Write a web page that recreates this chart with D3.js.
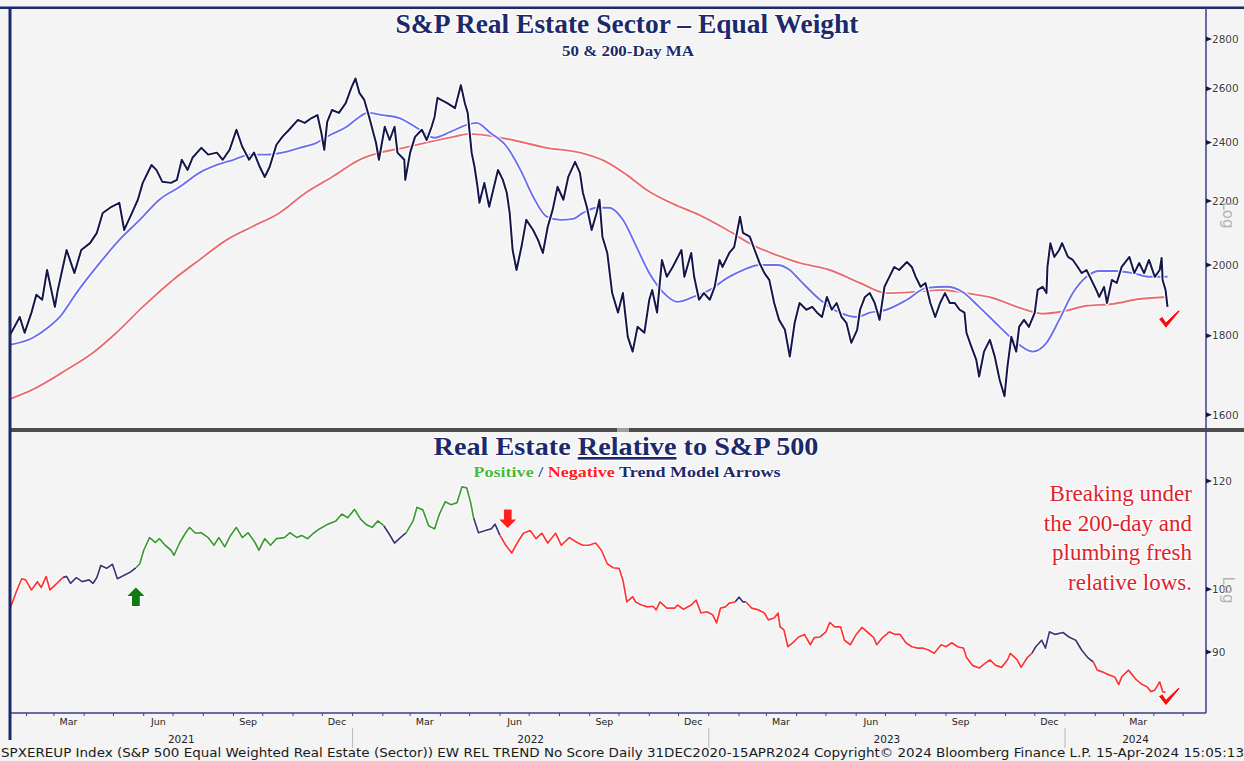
<!DOCTYPE html>
<html>
<head>
<meta charset="utf-8">
<script src="https://cdn.jsdelivr.net/npm/d3@7"></script>
<style>
  body { margin: 0; background: #f4f4f4; }
  svg { display: block; }
</style>
</head>
<body>
<svg id="chart" width="1244" height="761"></svg>
<script>
// ---- data ----
const price = [["2021-01-15",1802],["2021-01-25",1851],["2021-01-30",1808],["2021-02-06",1863],["2021-02-11",1913],["2021-02-17",1899],["2021-02-22",1985],["2021-03-02",1879],["2021-03-05",1927],["2021-03-14",2045],["2021-03-22",1976],["2021-03-29",2045],["2021-04-07",2066],["2021-04-14",2098],["2021-04-20",2161],["2021-04-29",2181],["2021-05-07",2194],["2021-05-12",2107],["2021-05-20",2161],["2021-05-26",2204],["2021-05-31",2260],["2021-06-09",2321],["2021-06-14",2304],["2021-06-20",2264],["2021-06-29",2260],["2021-07-05",2270],["2021-07-10",2339],["2021-07-16",2304],["2021-07-21",2346],["2021-07-30",2381],["2021-08-06",2357],["2021-08-15",2364],["2021-08-21",2339],["2021-08-28",2374],["2021-09-04",2446],["2021-09-10",2385],["2021-09-17",2339],["2021-09-22",2364],["2021-09-28",2314],["2021-10-03",2280],["2021-10-08",2314],["2021-10-15",2392],["2021-10-21",2420],["2021-10-28",2446],["2021-11-06",2482],["2021-11-13",2471],["2021-11-20",2489],["2021-11-26",2500],["2021-11-30",2435],["2021-12-03",2374],["2021-12-06",2475],["2021-12-11",2519],["2021-12-18",2508],["2021-12-25",2545],["2021-12-31",2606],["2022-01-04",2640],["2022-01-08",2584],["2022-01-13",2557],["2022-01-18",2493],["2022-01-25",2399],["2022-01-28",2339],["2022-02-03",2457],["2022-02-08",2409],["2022-02-13",2457],["2022-02-16",2364],["2022-02-23",2339],["2022-02-24",2270],["2022-03-01",2364],["2022-03-06",2420],["2022-03-13",2446],["2022-03-18",2409],["2022-03-23",2457],["2022-03-26",2493],["2022-03-29",2565],["2022-04-08",2545],["2022-04-16",2526],["2022-04-22",2614],["2022-04-26",2545],["2022-04-29",2508],["2022-05-03",2364],["2022-05-06",2314],["2022-05-09",2247],["2022-05-11",2194],["2022-05-16",2260],["2022-05-21",2181],["2022-05-30",2304],["2022-06-04",2270],["2022-06-08",2227],["2022-06-11",2161],["2022-06-14",2045],["2022-06-18",1985],["2022-06-23",2054],["2022-06-28",2139],["2022-07-05",2107],["2022-07-10",2076],["2022-07-15",2036],["2022-07-20",2117],["2022-07-25",2171],["2022-07-30",2247],["2022-08-05",2204],["2022-08-10",2280],["2022-08-17",2332],["2022-08-22",2294],["2022-08-25",2227],["2022-08-29",2181],["2022-09-03",2107],["2022-09-08",2161],["2022-09-11",2204],["2022-09-14",2086],["2022-09-19",2036],["2022-09-24",1918],["2022-09-30",1863],["2022-10-05",1918],["2022-10-10",1797],["2022-10-15",1758],["2022-10-20",1824],["2022-10-27",1808],["2022-11-01",1899],["2022-11-04",1927],["2022-11-09",1863],["2022-11-14",2015],["2022-11-19",1965],["2022-11-25",1994],["2022-12-04",2045],["2022-12-07",1965],["2022-12-14",2036],["2022-12-17",1965],["2022-12-22",1899],["2022-12-27",1918],["2023-01-02",1899],["2023-01-07",1936],["2023-01-12",2015],["2023-01-15",1994],["2023-01-22",2036],["2023-01-27",2054],["2023-02-02",2149],["2023-02-05",2098],["2023-02-12",2086],["2023-02-17",2045],["2023-02-22",2006],["2023-02-27",1976],["2023-03-04",1956],["2023-03-09",1890],["2023-03-14",1843],["2023-03-20",1816],["2023-03-25",1745],["2023-03-30",1835],["2023-04-04",1890],["2023-04-11",1871],["2023-04-17",1879],["2023-04-22",1863],["2023-04-27",1851],["2023-05-02",1907],["2023-05-07",1871],["2023-05-12",1890],["2023-05-17",1851],["2023-05-22",1835],["2023-05-27",1781],["2023-06-02",1816],["2023-06-05",1871],["2023-06-10",1907],["2023-06-15",1918],["2023-06-20",1890],["2023-06-25",1843],["2023-06-30",1936],["2023-07-05",1965],["2023-07-10",1994],["2023-07-15",1985],["2023-07-23",2009],["2023-07-28",1994],["2023-08-01",1965],["2023-08-06",1936],["2023-08-11",1947],["2023-08-16",1890],["2023-08-21",1851],["2023-08-26",1890],["2023-08-31",1918],["2023-09-05",1890],["2023-09-10",1890],["2023-09-15",1871],["2023-09-20",1863],["2023-09-22",1808],["2023-09-27",1771],["2023-10-02",1737],["2023-10-05",1694],["2023-10-10",1758],["2023-10-16",1789],["2023-10-21",1745],["2023-10-26",1686],["2023-10-31",1645],["2023-11-03",1719],["2023-11-07",1797],["2023-11-12",1758],["2023-11-15",1824],["2023-11-20",1843],["2023-11-25",1824],["2023-12-01",1863],["2023-12-04",1927],["2023-12-09",1936],["2023-12-13",1918],["2023-12-14",1994],["2023-12-17",2066],["2023-12-21",2024],["2023-12-26",2045],["2023-12-29",2066],["2024-01-04",2024],["2024-01-09",2015],["2024-01-14",1994],["2024-01-18",1976],["2024-01-23",1985],["2024-01-28",1956],["2024-02-02",1927],["2024-02-05",1907],["2024-02-10",1936],["2024-02-13",1890],["2024-02-18",1956],["2024-02-23",1947],["2024-02-28",1994],["2024-03-07",2024],["2024-03-12",1976],["2024-03-17",2006],["2024-03-22",1976],["2024-03-27",2015],["2024-04-02",1965],["2024-04-07",1985],["2024-04-09",2021],["2024-04-10",1956],["2024-04-13",1927],["2024-04-15",1879]];

const ma50 = [["2021-01-15",1776],["2021-02-07",1794],["2021-02-24",1824],["2021-03-07",1851],["2021-03-24",1918],["2021-04-17",2006],["2021-05-07",2076],["2021-05-28",2139],["2021-06-17",2204],["2021-07-08",2247],["2021-07-28",2294],["2021-08-15",2321],["2021-09-01",2339],["2021-09-18",2357],["2021-10-05",2357],["2021-10-21",2364],["2021-11-08",2381],["2021-11-25",2399],["2021-12-09",2427],["2021-12-26",2457],["2022-01-08",2493],["2022-01-16",2508],["2022-02-01",2500],["2022-02-18",2489],["2022-03-11",2446],["2022-03-26",2417],["2022-04-11",2438],["2022-04-28",2464],["2022-05-08",2471],["2022-05-22",2435],["2022-06-08",2385],["2022-06-22",2304],["2022-07-05",2214],["2022-07-19",2149],["2022-08-02",2139],["2022-08-15",2142],["2022-08-25",2161],["2022-09-08",2178],["2022-09-21",2178],["2022-10-05",2139],["2022-10-19",2054],["2022-11-01",1976],["2022-11-15",1921],["2022-11-30",1893],["2022-12-16",1907],["2023-01-02",1927],["2023-01-20",1962],["2023-02-05",1985],["2023-02-22",2000],["2023-03-12",2000],["2023-03-25",1985],["2023-04-04",1956],["2023-04-25",1899],["2023-05-15",1863],["2023-06-02",1851],["2023-06-15",1863],["2023-07-02",1871],["2023-07-23",1899],["2023-08-12",1933],["2023-09-02",1936],["2023-09-18",1921],["2023-10-05",1879],["2023-10-26",1824],["2023-11-15",1776],["2023-11-29",1758],["2023-12-13",1781],["2023-12-26",1843],["2024-01-09",1918],["2024-01-23",1965],["2024-02-05",1982],["2024-02-22",1982],["2024-03-10",1976],["2024-03-28",1965],["2024-04-15",1965]];

const ma200 = [["2021-01-15",1638],["2021-02-07",1661],["2021-03-14",1711],["2021-04-10",1755],["2021-05-04",1808],["2021-05-31",1879],["2021-07-01",1956],["2021-07-28",2015],["2021-08-25",2076],["2021-09-20",2117],["2021-10-18",2161],["2021-11-14",2227],["2021-12-11",2280],["2022-01-08",2339],["2022-01-29",2364],["2022-02-18",2378],["2022-03-21",2402],["2022-04-14",2420],["2022-05-01",2431],["2022-05-21",2424],["2022-06-14",2409],["2022-07-19",2381],["2022-08-22",2364],["2022-09-18",2332],["2022-10-09",2287],["2022-10-29",2237],["2022-11-25",2191],["2022-12-22",2155],["2023-01-20",2107],["2023-02-15",2060],["2023-03-14",2027],["2023-04-04",2006],["2023-05-05",1985],["2023-06-05",1947],["2023-07-02",1918],["2023-07-29",1921],["2023-08-26",1927],["2023-09-22",1918],["2023-10-19",1904],["2023-11-15",1877],["2023-12-09",1860],["2023-12-29",1866],["2024-01-23",1882],["2024-02-18",1887],["2024-03-17",1901],["2024-04-15",1907]];

const relative = [["2021-01-15",96.8],["2021-01-21",99.4],["2021-01-27",101.8],["2021-01-31",101.6],["2021-02-06",99.9],["2021-02-12",101.3],["2021-02-16",100.3],["2021-02-21",102.2],["2021-02-25",99.9],["2021-03-04",101.0],["2021-03-10",102.0],["2021-03-14",102.2],["2021-03-18",101.0],["2021-03-24",102.0],["2021-03-30",101.3],["2021-04-06",101.6],["2021-04-10",101.0],["2021-04-14",102.0],["2021-04-18",104.1],["2021-04-24",103.6],["2021-04-30",104.3],["2021-05-05",101.8],["2021-05-11",102.3],["2021-05-18",102.9],["2021-05-24",103.7],["2021-05-28",104.4],["2021-06-01",106.8],["2021-06-07",109.1],["2021-06-13",108.2],["2021-06-17",108.9],["2021-06-23",107.7],["2021-06-29",106.8],["2021-07-02",105.9],["2021-07-08",108.2],["2021-07-14",110.0],["2021-07-18",111.0],["2021-07-24",109.9],["2021-07-30",110.0],["2021-08-06",109.1],["2021-08-12",107.7],["2021-08-17",109.1],["2021-08-23",107.4],["2021-08-29",109.5],["2021-09-04",111.0],["2021-09-10",109.1],["2021-09-16",110.0],["2021-09-23",108.2],["2021-09-27",106.8],["2021-10-03",108.9],["2021-10-09",107.7],["2021-10-15",108.9],["2021-10-23",109.1],["2021-10-29",110.0],["2021-11-05",109.1],["2021-11-10",109.5],["2021-11-16",108.9],["2021-11-22",109.9],["2021-11-28",110.7],["2021-12-07",111.6],["2021-12-15",112.2],["2021-12-21",113.5],["2021-12-27",112.8],["2022-01-03",114.4],["2022-01-09",112.6],["2022-01-15",111.5],["2022-01-21",111.0],["2022-01-27",112.2],["2022-02-02",111.3],["2022-02-07",109.9],["2022-02-13",108.1],["2022-02-19",109.1],["2022-02-25",110.0],["2022-03-04",112.2],["2022-03-08",114.8],["2022-03-14",114.3],["2022-03-20",111.3],["2022-03-26",110.7],["2022-03-31",113.5],["2022-04-06",115.9],["2022-04-12",115.3],["2022-04-18",115.7],["2022-04-23",118.8],["2022-04-28",118.6],["2022-05-02",115.7],["2022-05-05",112.8],["2022-05-10",110.0],["2022-05-17",110.4],["2022-05-23",110.7],["2022-05-27",111.6],["2022-06-01",109.5],["2022-06-07",107.7],["2022-06-13",106.3],["2022-06-19",108.2],["2022-06-25",109.9],["2022-07-02",110.4],["2022-07-08",108.9],["2022-07-14",109.9],["2022-07-20",108.1],["2022-07-28",109.9],["2022-08-03",107.7],["2022-08-11",109.1],["2022-08-19",108.2],["2022-08-25",107.7],["2022-08-31",107.7],["2022-09-07",108.1],["2022-09-13",106.8],["2022-09-19",104.4],["2022-09-25",103.7],["2022-10-01",103.6],["2022-10-05",101.6],["2022-10-09",97.9],["2022-10-15",98.8],["2022-10-18",97.9],["2022-10-24",97.4],["2022-10-30",97.1],["2022-11-05",97.2],["2022-11-08",96.6],["2022-11-12",97.9],["2022-11-19",96.9],["2022-11-27",96.9],["2022-11-30",97.4],["2022-12-06",96.7],["2022-12-14",97.4],["2022-12-19",98.2],["2022-12-24",96.1],["2022-12-30",96.3],["2023-01-05",95.8],["2023-01-09",94.5],["2023-01-13",96.9],["2023-01-18",97.1],["2023-01-22",97.7],["2023-01-28",97.9],["2023-02-01",98.7],["2023-02-05",97.9],["2023-02-08",97.9],["2023-02-14",96.9],["2023-02-21",96.6],["2023-02-27",96.1],["2023-03-03",95.0],["2023-03-09",95.3],["2023-03-13",96.1],["2023-03-15",93.9],["2023-03-19",93.4],["2023-03-23",90.8],["2023-03-28",91.4],["2023-04-03",92.3],["2023-04-09",92.7],["2023-04-15",91.1],["2023-04-19",92.2],["2023-04-25",92.3],["2023-05-01",93.1],["2023-05-05",94.6],["2023-05-10",93.9],["2023-05-16",93.9],["2023-05-20",91.8],["2023-05-26",91.1],["2023-06-01",92.7],["2023-06-07",93.8],["2023-06-13",93.0],["2023-06-19",92.2],["2023-06-22",91.1],["2023-06-28",92.2],["2023-07-05",93.1],["2023-07-11",92.7],["2023-07-16",92.7],["2023-07-22",91.4],["2023-07-28",90.8],["2023-08-03",90.6],["2023-08-08",90.6],["2023-08-14",90.3],["2023-08-20",89.8],["2023-08-27",91.1],["2023-09-01",90.8],["2023-09-07",91.4],["2023-09-13",90.8],["2023-09-19",90.6],["2023-09-22",89.2],["2023-09-28",88.0],["2023-10-05",87.6],["2023-10-11",88.3],["2023-10-16",88.8],["2023-10-22",88.0],["2023-10-28",87.7],["2023-11-03",88.8],["2023-11-06",89.8],["2023-11-13",88.8],["2023-11-17",87.7],["2023-11-23",89.1],["2023-11-28",89.8],["2023-12-02",90.8],["2023-12-08",91.8],["2023-12-12",90.6],["2023-12-16",93.1],["2023-12-22",92.7],["2023-12-30",93.0],["2024-01-05",92.3],["2024-01-12",91.8],["2024-01-18",90.3],["2024-01-24",89.2],["2024-01-30",88.5],["2024-02-03",87.3],["2024-02-09",87.0],["2024-02-15",86.6],["2024-02-21",86.3],["2024-02-25",85.2],["2024-02-28",86.3],["2024-03-06",87.3],["2024-03-10",86.6],["2024-03-14",85.9],["2024-03-20",85.2],["2024-03-25",84.9],["2024-03-29",84.2],["2024-04-02",84.4],["2024-04-07",85.6],["2024-04-10",84.2],["2024-04-13",84.1]];

// trend model state by date range
const trendStates = [["2021-01-01","2021-03-14","neg"],["2021-03-14","2021-05-28","flat"],["2021-05-28","2022-02-07","pos"],["2022-02-07","2022-03-04","flat"],["2022-03-04","2022-05-07","pos"],["2022-05-07","2022-06-07","flat"],["2022-06-07","2023-01-30","neg"],["2023-01-30","2023-02-12","flat"],["2023-02-12","2023-12-02","neg"],["2023-12-02","2024-02-03","flat"],["2024-02-03","2024-04-30","neg"]];

const trendArrows = [["2021-05-24", 98.8, "up"], ["2022-06-09", 112.6, "down"]];
const checkMarks = [["2024-04-16", 1843, "top"], ["2024-04-16", 83.4, "bottom"]];

const topTicks = [1600, 1800, 2000, 2200, 2400, 2600, 2800];
const bottomTicks = [90, 100, 120];
const noteLines = ["Breaking under", "the 200-day and", "plumbing fresh", "relative lows."];
const footer = "SPXEREUP Index (S&P 500 Equal Weighted Real Estate (Sector)) EW REL TREND No Score  Daily 31DEC2020-15APR2024 Copyright\u00A9 2024 Bloomberg Finance L.P. 15-Apr-2024 15:05:13";

// ---- layout ----
const svg = d3.select("#chart");
const plotLeft = 10, plotRight = 1206;
const topY0 = 8, topY1 = 428, botY0 = 432, botY1 = 712;
const navy = "#1c2a6b";

const parse = d3.timeParse("%Y-%m-%d");
const toPoints = rows => rows.map(r => ({date: parse(r[0]), value: r[1]}));

const x = d3.scaleTime().
domain([parse("2021-01-15"), parse("2024-04-15")]).
range([10, 1167.5]);
const yTop = d3.scaleLog().domain([1569, 2932]).range([topY1, topY0]);
const yBot = d3.scaleLog().domain([81.36, 130.3]).range([botY1, botY0]);

svg.append("rect").attr("width", 1244).attr("height", 761).attr("fill", "#f4f4f4");

let defs = svg.append("defs");
defs.append("clipPath").attr("id", "clipTop").append("rect").
attr("x", plotLeft).attr("y", topY0).attr("width", plotRight - plotLeft).attr("height", topY1 - topY0);
defs.append("clipPath").attr("id", "clipBot").append("rect").
attr("x", plotLeft).attr("y", botY0).attr("width", plotRight - plotLeft).attr("height", botY1 - botY0);

function drawLine(g, rows, yScale, color, width, curve) {
  let line = d3.line().
  x(d => x(d.date)).
  y(d => yScale(d.value)).
  curve(curve || d3.curveLinear);
  let pts = rows[0] && rows[0].date ? rows : toPoints(rows);
  g.append("path").attr("d", line(pts)).
  attr("fill", "none").attr("stroke", "#ffffff").attr("stroke-opacity", 0.9).
  attr("stroke-width", width + 2.4).attr("stroke-linejoin", "round");
  g.append("path").attr("d", line(pts)).
  attr("fill", "none").attr("stroke", color).
  attr("stroke-width", width).attr("stroke-linejoin", "round");
}

// top panel lines
let gTop = svg.append("g").attr("clip-path", "url(#clipTop)");
drawLine(gTop, ma200, yTop, "#e96e72", 1.9, d3.curveMonotoneX);
drawLine(gTop, ma50, yTop, "#6a70f0", 1.9, d3.curveMonotoneX);
drawLine(gTop, price, yTop, "#15164a", 2);

// bottom panel: relative line coloured by trend state
let stateColor = {pos: "#3f9a38", neg: "#ff3535", flat: "#3a3a78"};
function stateAt(date) {
  for (const s of trendStates) {
    if (date >= parse(s[0]) && date < parse(s[1])) return s[2];
  }
  return "neg";
}
let relPts = toPoints(relative).map(p => ({date: p.date, value: p.value, state: stateAt(p.date)}));
let runs = [];
relPts.forEach((p, i) => {
  if (!runs.length || runs[runs.length - 1].state !== p.state) {
    let run = {state: p.state, pts: []};
    if (i > 0) run.pts.push(relPts[i - 1]);
    runs.push(run);
  }
  runs[runs.length - 1].pts.push(p);
});
let gBot = svg.append("g").attr("clip-path", "url(#clipBot)");
runs.forEach(r => drawLine(gBot, r.pts, yBot, stateColor[r.state], 1.7));

// trend arrows
trendArrows.forEach(a => {
  let cx = x(parse(a[0])), cy = yBot(a[1]);
  let s = a[2] === "up" ? -1 : 1;
  let pts = [[-4.5, -10 * s], [4.5, -10 * s], [4.5, 0], [10, 0], [0, 10 * s], [-10, 0], [-4.5, 0]];
  svg.append("path").
  attr("d", "M" + pts.map(p => [cx + p[0], cy + p[1]].join(",")).join("L") + "Z").
  attr("fill", a[2] === "up" ? "#107a10" : "#ff1f1f").
  attr("stroke", "#ffffff").attr("stroke-width", 1.2);
});

// check marks
checkMarks.forEach(c => {
  let cx = x(parse(c[0])), cy = (c[2] === "top" ? yTop : yBot)(c[1]);
  let d = [[-10, -1], [-6, -3.5], [-2.5, 2], [10, -10], [11.5, -8.5], [-2.5, 8.5]];
  svg.append("path").
  attr("d", "M" + d.map(p => [cx + p[0], cy + p[1]].join(",")).join("L") + "Z").
  attr("fill", "#f01010").attr("stroke", "#ffffff").attr("stroke-width", 1);
});

// frame
svg.append("rect").attr("x", 0).attr("y", 6.5).attr("width", 1244).attr("height", 2.5).attr("fill", navy);
svg.append("rect").attr("x", plotLeft).attr("y", topY1).attr("width", 1244 - plotLeft).attr("height", 4).attr("fill", "#4d4d4d");
svg.append("rect").attr("x", 617).attr("y", topY1).attr("width", 12).attr("height", 4).attr("fill", "#a0a0a0");
svg.append("line").attr("x1", plotRight).attr("x2", plotRight).attr("y1", topY0).attr("y2", botY1 + 1).
attr("stroke", "#3b3f86").attr("stroke-width", 1.5);
svg.append("line").attr("x1", plotLeft).attr("x2", plotRight).attr("y1", botY1 + 1).attr("y2", botY1 + 1).
attr("stroke", "#3b3f86").attr("stroke-width", 1.5);
svg.append("rect").attr("x", 8.5).attr("y", topY0).attr("width", 3).attr("height", 732).attr("fill", navy);

// right axes with triangle markers
function rightAxis(ticks, yScale) {
  let g = svg.append("g");
  ticks.forEach(t => {
    let ty = yScale(t);
    g.append("path").attr("d", `M${plotRight},${ty - 2.5}L${plotRight + 6},${ty}L${plotRight},${ty + 2.5}Z`).attr("fill", "#15164a");
    g.append("text").attr("x", plotRight + 6).attr("y", ty).attr("dy", "0.35em").
    attr("font-family", "DejaVu Sans, sans-serif").attr("font-size", 10.5).
    attr("fill", "#3a3a3a").attr("stroke", "#ffffff").attr("stroke-width", 2).
    attr("paint-order", "stroke").text(t);
  });
}
rightAxis(topTicks, yTop);
rightAxis(bottomTicks, yBot);

[[215], [590]].forEach(p => {
  svg.append("text").attr("transform", `translate(1223,${p[0]}) rotate(90)`).
  attr("text-anchor", "middle").attr("font-family", "DejaVu Sans, sans-serif").
  attr("font-size", 15).attr("fill", "#b4b4b4").text("Log");
});

// x axis: month ticks, quarter labels, year labels
let axisG = svg.append("g").attr("font-family", "DejaVu Sans, sans-serif").attr("fill", "#222");
let months = d3.timeMonth.range(parse("2021-02-01"), parse("2024-06-01")).filter(m => x(m) <= plotRight);
months.forEach(m => {
  axisG.append("line").attr("x1", x(m)).attr("x2", x(m)).attr("y1", botY1 + 1).attr("y2", botY1 + 4).
  attr("stroke", "#3b3f86").attr("stroke-width", 1);
  if ([2, 5, 8, 11].includes(m.getMonth())) {
    let mid = d3.timeDay.offset(m, 15);
    axisG.append("text").attr("x", x(mid)).attr("y", 725).attr("text-anchor", "middle").
    attr("font-size", 9.5).text(d3.timeFormat("%b")(m));
  }
});
[2021, 2022, 2023, 2024].forEach(yr => {
  let a = Math.max(plotLeft, x(new Date(yr, 0, 1)));
  let b = Math.min(plotRight, x(new Date(yr + 1, 0, 1)));
  axisG.append("text").attr("x", (a + b) / 2).attr("y", 743).attr("text-anchor", "middle").
  attr("font-size", 10.5).text(yr);
  if (yr > 2021) {
    axisG.append("line").attr("x1", a).attr("x2", a).attr("y1", 728).attr("y2", 748).
    attr("stroke", "#b8b8b8").attr("stroke-width", 1);
  }
});
svg.append("text").attr("x", 1).attr("y", 757).attr("font-family", "DejaVu Sans, sans-serif").
attr("font-size", 12).attr("fill", "#1a1a1a").attr("textLength", 1243).
attr("lengthAdjust", "spacingAndGlyphs").text(footer);

// titles
function title(txt, cx, cy, size, width) {
  return svg.append("text").attr("x", cx).attr("y", cy).attr("text-anchor", "middle").
  attr("font-family", "Liberation Serif, serif").attr("font-weight", "bold").
  attr("font-size", size).attr("fill", navy).
  attr("stroke", "#ffffff").attr("stroke-width", 2).attr("paint-order", "stroke").
  attr("textLength", width).attr("lengthAdjust", "spacingAndGlyphs").text(txt);
}
title("S&P Real Estate Sector \u2013 Equal Weight", 627, 33, 27, 463);
title("50 & 200-Day MA", 628, 56, 14, 132);

let t2 = svg.append("text").attr("x", 626).attr("y", 455).attr("text-anchor", "middle").
attr("font-family", "Liberation Serif, serif").attr("font-weight", "bold").
attr("font-size", 26).attr("fill", navy).
attr("stroke", "#ffffff").attr("stroke-width", 2).attr("paint-order", "stroke").
attr("textLength", 385).attr("lengthAdjust", "spacingAndGlyphs");
t2.append("tspan").text("Real Estate ");
t2.append("tspan").attr("text-decoration", "underline").text("Relative");
t2.append("tspan").text(" to S&P 500");

let t3 = svg.append("text").attr("x", 627).attr("y", 477).attr("text-anchor", "middle").
attr("font-family", "Liberation Serif, serif").attr("font-weight", "bold").
attr("font-size", 15).attr("stroke", "#ffffff").attr("stroke-width", 2).attr("paint-order", "stroke").
attr("textLength", 307).attr("lengthAdjust", "spacingAndGlyphs");
t3.append("tspan").attr("fill", "#49b83f").text("Positive");
t3.append("tspan").attr("fill", "#2a4fa0").text(" / ");
t3.append("tspan").attr("fill", "#ff2020").text("Negative");
t3.append("tspan").attr("fill", navy).text(" Trend Model Arrows");

// annotation
noteLines.forEach((l, i) => {
  svg.append("text").attr("x", 1192).attr("y", 501 + i * 29.5).attr("text-anchor", "end").
  attr("font-family", "Liberation Serif, serif").attr("font-size", 23).
  attr("fill", "#e0222c").attr("stroke", "#ffffff").attr("stroke-width", 2.5).
  attr("paint-order", "stroke").text(l);
});
</script>
</body>
</html>
